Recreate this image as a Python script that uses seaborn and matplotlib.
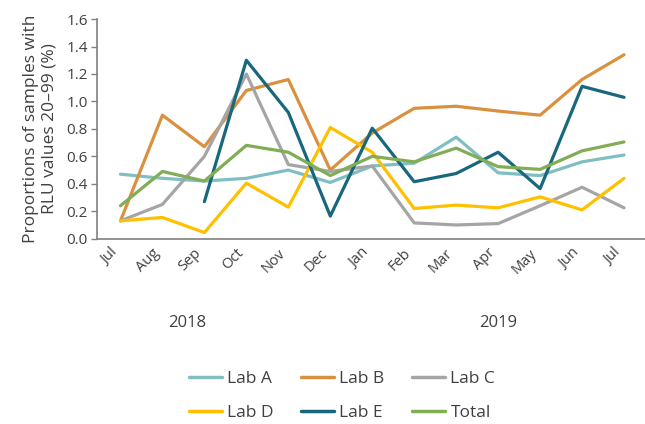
import matplotlib
matplotlib.use('Agg')
import matplotlib.pyplot as plt
import numpy as np
import pandas as pd
import seaborn as sns

# monthly data, Jul 2018 - Jul 2019
months = ['Jul', 'Aug', 'Sep', 'Oct', 'Nov', 'Dec', 'Jan', 'Feb', 'Mar', 'Apr', 'May', 'Jun', 'Jul']
lab_a = [0.47, 0.44, 0.42, 0.44, 0.50, 0.41, 0.53, 0.55, 0.74, 0.48, 0.46, 0.56, 0.61]
lab_b = [0.13, 0.90, 0.67, 1.08, 1.16, 0.50, 0.77, 0.95, 0.965, 0.93, 0.90, 1.16, 1.34]
lab_c = [0.13, 0.25, 0.60, 1.20, 0.54, 0.49, 0.53, 0.115, 0.10, 0.11, 0.24, 0.375, 0.225]
lab_d = [0.13, 0.155, 0.045, 0.405, 0.23, 0.81, 0.63, 0.22, 0.245, 0.225, 0.305, 0.21, 0.44]
lab_e = [np.nan, np.nan, 0.27, 1.30, 0.92, 0.165, 0.805, 0.415, 0.475, 0.63, 0.365, 1.11, 1.03]
total = [0.24, 0.49, 0.42, 0.68, 0.63, 0.46, 0.60, 0.56, 0.66, 0.525, 0.505, 0.64, 0.705]
years = ['2018', '2019']

series = {'Lab A': lab_a, 'Lab B': lab_b, 'Lab C': lab_c,
          'Lab D': lab_d, 'Lab E': lab_e, 'Total': total}
colors = {'Lab A': '#7fbfc4', 'Lab B': '#d9913f', 'Lab C': '#a5a5a5',
          'Lab D': '#ffc000', 'Lab E': '#17677d', 'Total': '#80ad55'}

rows = []
for name, vals in series.items():
    for i, v in enumerate(vals):
        rows.append({'pos': i, 'value': v, 'series': name})
df = pd.DataFrame(rows).dropna()

sns.set_style('white')
plt.rcParams['font.family'] = ['Open Sans', 'DejaVu Sans']
text_col = '#404040'

fig = plt.figure(figsize=(6.45, 4.24), dpi=100)
ax = fig.add_axes([0.151, 0.437, 0.849, 0.518])

sns.lineplot(data=df, x='pos', y='value', hue='series', palette=colors,
             linewidth=2.3, ax=ax, legend=False, estimator=None, sort=False)

ax.set_xlim(-0.55, 12.5)
ax.set_ylim(0, 1.6)
ax.set_yticks(np.arange(0, 1.61, 0.2))
ax.set_yticklabels(['%.1f' % t for t in np.arange(0, 1.61, 0.2)], fontsize=11, color=text_col)
ax.set_xticks(range(len(months)))
ax.set_xticklabels(months, rotation=45, fontsize=10.5, color=text_col, ha='right')
ax.tick_params(axis='x', length=0, pad=5)
ax.tick_params(axis='y', length=4, width=1, color='#808080', direction='out', pad=3, left=True)
ax.set_xlabel('')
ax.set_ylabel('Proportions of samples with\nRLU values 20\u201399 (%)', fontsize=12.5, color=text_col, labelpad=6)
for s in ['top', 'right']:
    ax.spines[s].set_visible(False)
for s in ['left', 'bottom']:
    ax.spines[s].set_color('#808080')
    ax.spines[s].set_linewidth(1.2)

# year labels under the month ticks
ax.text(1.6, -0.385, years[0], transform=ax.get_xaxis_transform(), ha='center', va='center',
        fontsize=12, color=text_col)
ax.text(9.0, -0.385, years[1], transform=ax.get_xaxis_transform(), ha='center', va='center',
        fontsize=12, color=text_col)

# legend, row-wise order
order = ['Lab A', 'Lab D', 'Lab B', 'Lab E', 'Lab C', 'Total']
handles = [plt.Line2D([0], [0], color=colors[n], linewidth=2.5) for n in order]
leg = fig.legend(handles, order, loc='center', bbox_to_anchor=(0.53, 0.066), ncol=3,
                 frameon=False, fontsize=12.5, handlelength=1.9, handletextpad=0.3,
                 columnspacing=1.6, labelspacing=1.0)
for t in leg.get_texts():
    t.set_color(text_col)

fig.savefig('out.png', dpi=100)
